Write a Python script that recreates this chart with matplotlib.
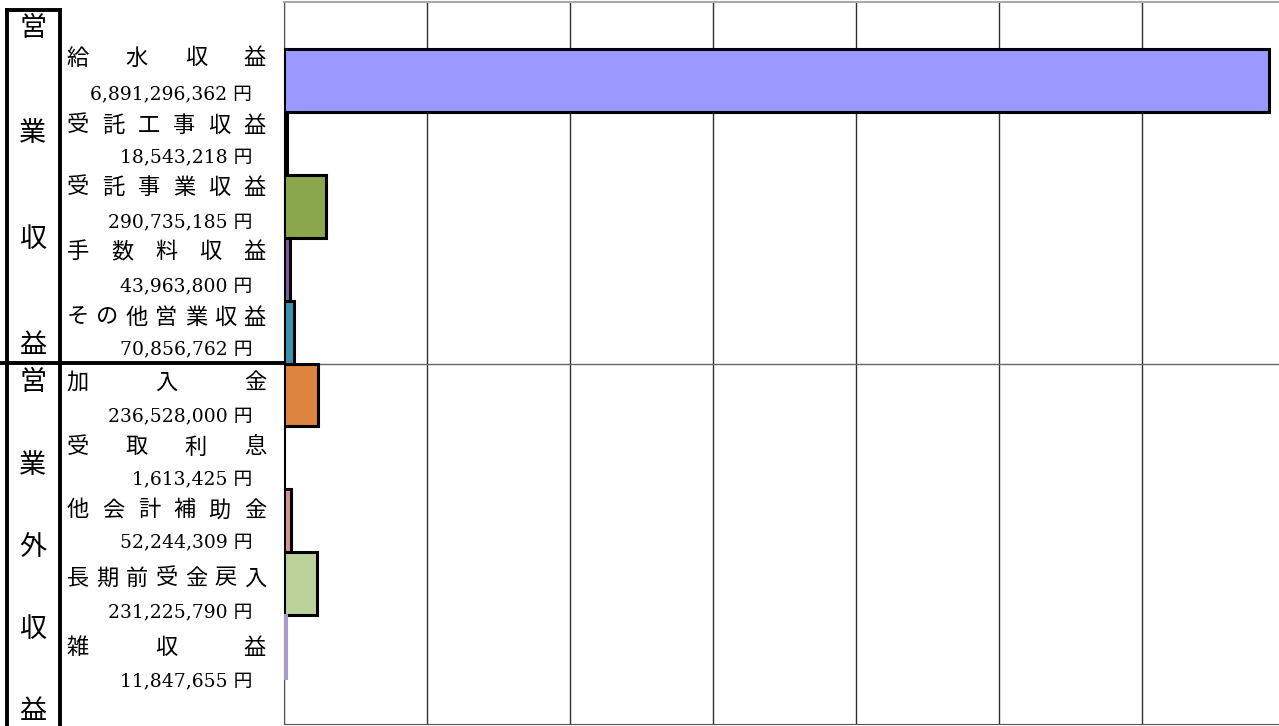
import numpy as np
import matplotlib.pyplot as plt
from matplotlib.lines import Line2D

plt.rcParams['font.family'] = ['Noto Sans CJK JP', 'DejaVu Sans']

# Data
categories = ['給水収益', '受託工事収益', '受託事業収益', '手数料収益', 'その他営業収益',
              '加入金', '受取利息', '他会計補助金', '長期前受金戻入', '雑収益']
values = [6891296362, 18543218, 290735185, 43963800, 70856762,
          236528000, 1613425, 52244309, 231225790, 11847655]
groups = ['営業収益', '営業外収益']
group_sizes = [5, 5]

bar_colors = ['#9999FF', '#FFFFFF', '#8BA74C', '#7E5C9E', '#3B93AF',
              '#DD843E', '#FFFFFF', '#D29494', '#BCD29A', '#FFFFFF']
edge_colors = ['black'] * 9 + ['#A99BC9']

W, H = 1279, 726
fig = plt.figure(figsize=(W / 100, H / 100), dpi=100)


def fx(x):
    return x / W


def fy(y):
    return 1 - y / H


# Chart area (right edge runs slightly past the figure)
ax = fig.add_axes([fx(284), fy(724), (1285 - 284) / W, 722 / H])
y = np.arange(len(values))
ax.barh(y, values, height=1.0, color=bar_colors, edgecolor=edge_colors, linewidth=2.2, zorder=3)
ax.set_xlim(0, 7e9)
ax.set_ylim(10.23, -1.247)
ax.set_xticks(np.arange(0, 7e9 + 1, 1e9))
ax.set_yticks([])
ax.tick_params(axis='x', length=0, labelbottom=False)
ax.grid(axis='x', color='#303030', linewidth=1.0, zorder=1)
ax.axhline(group_sizes[0] - 0.5, color='#666666', linewidth=1.0, zorder=2)
ax.spines['right'].set_visible(False)
ax.spines['top'].set_color('#A8A8A8')
ax.spines['top'].set_linewidth(1.5)
ax.spines['left'].set_color('#555555')
ax.spines['bottom'].set_color('#555555')

# Left label panel frame
lw = 2.8
fig.add_artist(Line2D([fx(7), fx(7)], [fy(10), fy(726)], color='black', linewidth=lw))
fig.add_artist(Line2D([fx(60), fx(60)], [fy(10), fy(726)], color='black', linewidth=lw))
fig.add_artist(Line2D([fx(7), fx(60)], [fy(10), fy(10)], color='black', linewidth=lw))
fig.add_artist(Line2D([fx(0), fx(283)], [fy(363), fy(363)], color='black', linewidth=lw))

# Group labels written vertically
group_ranges = [(28, 345), (383, 712)]
for name, (y0, y1) in zip(groups, group_ranges):
    for ch, yy in zip(name, np.linspace(y0, y1, len(name))):
        fig.text(fx(33), fy(yy), ch, ha='center', va='center', fontsize=19.5)

# Category names (spread across the cell) and amounts
name_rows = [58, 125, 187, 252, 317, 382, 447, 510, 578, 647]
num_rows = [95, 158, 223, 287, 350, 417, 480, 543, 613, 682]
for name, val, name_y, num_y in zip(categories, values, name_rows, num_rows):
    for ch, xx in zip(name, np.linspace(78, 255, len(name))):
        fig.text(fx(xx), fy(name_y), ch, ha='center', va='center', fontsize=16)
    fig.text(fx(252), fy(num_y), f'{val:,} 円', ha='right', va='center', fontsize=13.5,
             family=['DejaVu Serif', 'Noto Sans CJK JP'])

fig.savefig('out.png', dpi=100)
